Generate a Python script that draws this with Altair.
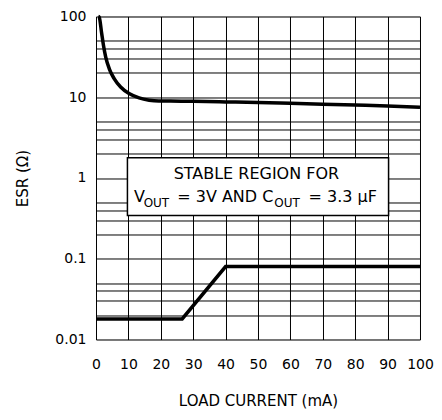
import altair as alt
import pandas as pd

# Upper boundary (max stable ESR)
upper_x = [0.7, 1.0, 1.7, 2.3, 3.0, 4.1, 5.6, 7.6, 10.2, 13.3, 16.4, 19.4, 23, 30, 40, 50, 60, 70, 80, 90, 100]
upper_y = [100, 98, 64, 44, 31.4, 22.5, 17, 13.4, 11.1, 9.8, 9.2, 9.0, 9.0, 8.9, 8.75, 8.6, 8.4, 8.2, 8.0, 7.8, 7.5]

# Lower boundary (min stable ESR)
lower_x = [0, 26.6, 40, 100]
lower_y = [0.018, 0.018, 0.08, 0.08]

x_ticks = [0, 10, 20, 30, 40, 50, 60, 70, 80, 90, 100]
y_grid = [0.01, 0.02, 0.03, 0.04, 0.05,
          0.1, 0.2, 0.3, 0.4, 0.5,
          1, 2, 3, 4, 5,
          10, 20, 30, 40, 50, 100]

box_x = [9.7]
box_x2 = [90.3]
box_y = [1.78]
box_y2 = [0.343]

line1 = "STABLE REGION FOR"
line2_parts = ["V", "OUT", "= 3V AND C", "OUT", "= 3.3 \u03bcF"]

FONT = "DejaVu Sans"

xs = alt.Scale(domain=[0, 100], nice=False, zero=False)
ys = alt.Scale(type="log", domain=[0.01, 100], nice=False)

x_axis = alt.Axis(values=x_ticks, grid=True, gridColor="black", gridWidth=1, gridOpacity=1,
                  ticks=False, domain=False, labelFont=FONT, labelFontSize=14, labelColor="black",
                  labelPadding=18, title="LOAD CURRENT (mA)", titleFont=FONT, titleFontSize=15,
                  titleFontWeight="normal", titleColor="black", titleBaseline="middle", titleY=61,
                  labelFlush=False, labelOverlap=False)
y_axis = alt.Axis(values=y_grid, grid=True, gridColor="black", gridWidth=1, gridOpacity=1,
                  ticks=False, domain=False, labelFont=FONT, labelFontSize=14, labelColor="black",
                  labelPadding=10,
                  labelExpr="abs(log(datum.value)/log(10) - round(log(datum.value)/log(10))) < 0.001 ? format(datum.value, '~g') : ''",
                  title="ESR (\u03a9)", titleFont=FONT, titleFontSize=15, titleFontWeight="normal",
                  titleColor="black", titleBaseline="middle", titleX=-74, titleAngle=270,
                  labelFlush=False, labelOverlap=False)

X = lambda: alt.X("x:Q", scale=xs, axis=x_axis)
Y = lambda: alt.Y("y:Q", scale=ys, axis=y_axis)

upper_df = pd.DataFrame({"x": upper_x, "y": upper_y})
lower_df = pd.DataFrame({"x": lower_x, "y": lower_y})
box_df = pd.DataFrame({"x": box_x, "x2": box_x2, "y": box_y, "y2": box_y2})

upper = alt.Chart(upper_df).mark_line(color="black", strokeWidth=3.5, interpolate="monotone").encode(
    x=X(), y=Y(),
)
lower = alt.Chart(lower_df).mark_line(color="black", strokeWidth=3.5).encode(
    x=X(), y=Y(),
)
box = alt.Chart(box_df).mark_rect(fill="white", stroke="black", strokeWidth=1.5).encode(
    x=X(), x2="x2:Q", y=Y(), y2="y2:Q",
)

t1 = alt.Chart(pd.DataFrame({"x": [49.5], "y": [0.97], "t": [line1]})).mark_text(
    font=FONT, fontSize=16, align="center", baseline="alphabetic", color="black"
).encode(x=X(), y=Y(), text="t:N")

part_x = [11.75, 14.7, 25.08, 55.0, 65.6]
part_size = [16, 12, 16, 12, 16]
part_dy = [0, 5, 0, 5, 0]
t2_layers = []
for txt, px, sz, dy in zip(line2_parts, part_x, part_size, part_dy):
    t2_layers.append(
        alt.Chart(pd.DataFrame({"x": [px], "y": [0.5], "t": [txt]})).mark_text(
            font=FONT, fontSize=sz, align="left", baseline="alphabetic", color="black", dy=dy
        ).encode(x=X(), y=Y(), text="t:N")
    )

chart = alt.layer(upper, lower, box, t1, *t2_layers).properties(
    width=324, height=323,
    padding={"left": 88, "top": 8.5, "right": 14, "bottom": 72.3},
    autosize=alt.AutoSizeParams(type="none"),
).configure_view(stroke="black", strokeWidth=1.5).configure(background="white")

chart.save("out.html", embed_options={"renderer": "svg", "actions": False})
